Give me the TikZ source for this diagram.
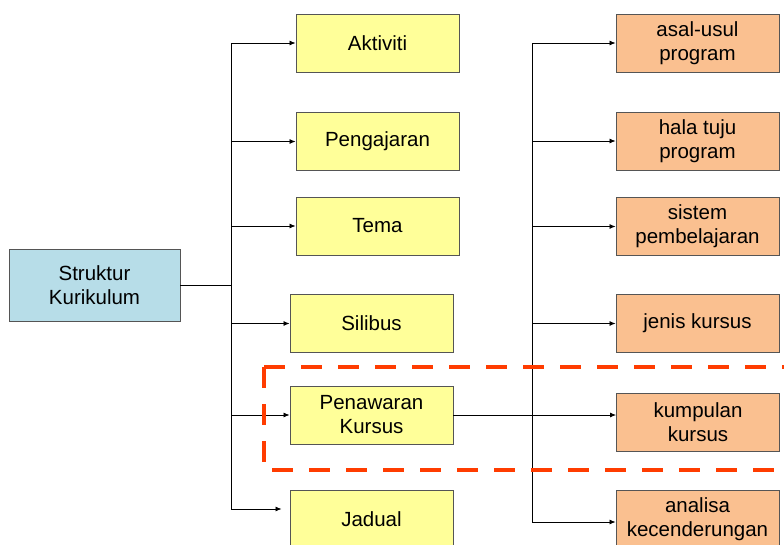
\documentclass[tikz,border=0pt]{standalone}
\usepackage{fontspec}
\setmainfont{Liberation Sans}
\usetikzlibrary{arrows.meta}
\definecolor{boxline}{RGB}{85,85,85}
\definecolor{kuning}{RGB}{255,255,153}
\definecolor{jingga}{RGB}{250,192,144}
\definecolor{biru}{RGB}{183,221,232}
\definecolor{merah}{RGB}{255,60,0}

\begin{document}
\begin{tikzpicture}[x=1pt, y=-1pt,
	box/.style={draw=boxline, line width=0.9pt, align=center, inner sep=0pt,
		font=\fontsize{20.5}{24}\selectfont},
	ybox/.style={box, fill=kuning, minimum width=163pt, minimum height=58pt},
	obox/.style={box, fill=jingga, minimum width=163pt, minimum height=58pt},
	feed/.style={line width=0.8pt, -{Latex[length=6pt, width=5pt]}}]
			%%%%% START %%%%%
			
			\clip (0, 0) rectangle (784, 544);
			\fill[white] (0, 0) rectangle (784, 544);
			
			\node[box, fill=biru, minimum width=171pt, minimum height=72pt] (sk) at (94.5, 285) {Struktur\\Kurikulum};
			
			\node[ybox] (akt) at (377.5, 43) {Aktiviti};
			\node[ybox] (ajar) at (377.5, 141.5) {Pengajaran};
			\node[ybox] (tema) at (377.5, 226) {Tema};
			\node[ybox] (sil) at (371.5, 323.5) {Silibus};
			\node[ybox] (tawar) at (371.5, 415) {Penawaran\\Kursus};
			\node[ybox] (jad) at (371.5, 519) {Jadual};
			
			\node[obox] (asal) at (697.5, 43) {asal-usul\\program};
			\node[obox] (hala) at (697.5, 141) {hala tuju\\program};
			\node[obox] (sis) at (697.5, 226.5) {sistem\\pembelajaran};
			\node[obox] (jen) at (697.5, 323.5) {jenis kursus};
			\node[obox] (kum) at (698, 422.5) {kumpulan\\kursus};
			\node[obox] (ana) at (697.5, 519) {analisa\\kecenderungan};
			
			% left trunk
			\coordinate (ltop) at (231, 43);
			\coordinate (lbot) at (231, 509);
			\draw[line width=0.8pt] (ltop) -- (lbot);
			\draw[line width=0.8pt] (sk.east) -- (sk.east -| ltop);
			\foreach \b in {akt, ajar, tema, sil, tawar}
				\draw[feed] (ltop |- \b.west) -- (\b.west);
			\draw[feed] (lbot) -- ([xshift=-8pt]lbot -| jad.west);
			
			% right trunk
			\coordinate (rtop) at (532, 43);
			\coordinate (rbot) at (532, 522);
			\draw[line width=0.8pt] (rtop) -- (rbot);
			\foreach \b in {asal, hala, sis, jen}
				\draw[feed] (rtop |- \b.west) -- (\b.west);
			\draw[feed] (rbot) -- (rbot -| ana.west);
			\draw[feed] (tawar.east) -- (tawar.east -| kum.west);
			
			\draw[merah, line width=4.5pt, dash pattern=on 21pt off 16pt] (264, 367) -- (264, 470) -- (800, 470);
			\draw[merah, line width=4.5pt, dash pattern=on 21pt off 16pt] (264, 367) -- (800, 367);
			
			%%%%% END %%%%%
\end{tikzpicture}
\end{document}
